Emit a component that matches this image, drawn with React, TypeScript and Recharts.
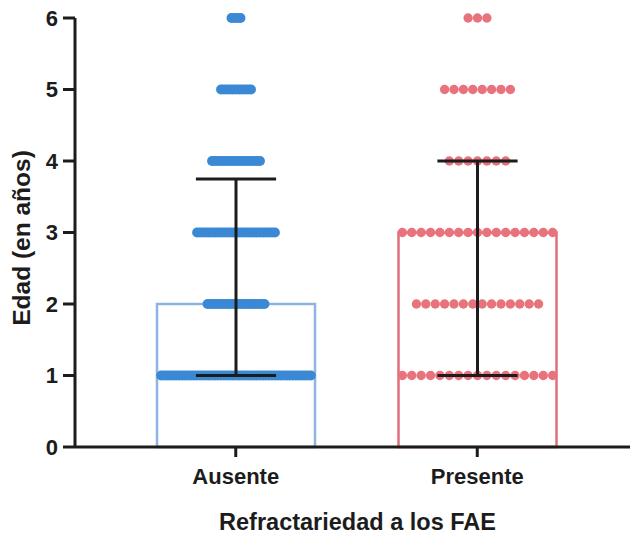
import React from "react";
import {
  ComposedChart,
  Bar,
  Scatter,
  XAxis,
  YAxis,
  Label,
} from "recharts";

// Categories and summary values
const categories = ["Ausente", "Presente"];
const medians = [2, 3];
const errLow = [1, 1]; // lower whisker values
const errHigh = [3.75, 4]; // upper whisker values

// Number of subjects at each age (0..6) per group
const ages = [0, 1, 2, 3, 4, 5, 6];
const ausenteCounts = [0, 51, 20, 27, 17, 11, 4];
const presenteCounts = [0, 17, 14, 17, 7, 8, 3];

const yTicks = [0, 1, 2, 3, 4, 5, 6];

const FONT = "'Liberation Sans', Arial, sans-serif";
const INK = "#1c1c1c";
const BLUE_DOT = "#3b89d4";
const BLUE_BAR = "#8db5e0";
const RED_DOT = "#e9737d";
const RED_BAR = "#df6f7b";
const CAP_HALF = 0.166; // half cap width in category units

// beeswarm-like horizontal spread in category units
function spread(counts: number[], center: number, step: number) {
  const pts: { x: number; y: number }[] = [];
  counts.forEach((n, i) => {
    for (let k = 0; k < n; k++) {
      pts.push({ x: center + (k - (n - 1) / 2) * step, y: ages[i] });
    }
  });
  return pts;
}

const barData = categories.map((c, i) => ({ name: c, median: medians[i] }));
const ausenteDots = spread(ausenteCounts, 1, 0.0124);
const presenteDots = spread(presenteCounts, 2, 0.0389);

// whisker segments (vertical + two caps) per group
const whiskerSegments: { x: number; y: number }[][] = [];
categories.forEach((_, i) => {
  const cx = i + 1;
  whiskerSegments.push([
    { x: cx, y: errLow[i] },
    { x: cx, y: errHigh[i] },
  ]);
  whiskerSegments.push([
    { x: cx - CAP_HALF, y: errHigh[i] },
    { x: cx + CAP_HALF, y: errHigh[i] },
  ]);
  whiskerSegments.push([
    { x: cx - CAP_HALF, y: errLow[i] },
    { x: cx + CAP_HALF, y: errLow[i] },
  ]);
});

export default function App() {
  return (
    <div style={{ position: "absolute", left: 0, top: 0, background: "#fff" }}>
      <ComposedChart
        width={633}
        height={537}
        data={barData}
        margin={{ top: 18, right: 3, left: 0, bottom: 0 }}
        barCategoryGap={0}
      >
        <XAxis
          xAxisId="cat"
          dataKey="name"
          type="category"
          height={90}
          padding={{ left: 40, right: 32 }}
          axisLine={{ stroke: INK, strokeWidth: 3 }}
          tickLine={{ stroke: INK, strokeWidth: 3 }}
          tickSize={10}
          tickMargin={11}
          tick={{ fill: INK, fontFamily: FONT, fontWeight: 700, fontSize: 22 }}
        >
          <Label
            value="Refractariedad a los FAE"
            position="insideBottom"
            offset={7}
            dx={5}
            style={{ fill: INK, fontFamily: FONT, fontWeight: 700, fontSize: 23.5 }}
          />
        </XAxis>
        <XAxis
          xAxisId="num"
          dataKey="x"
          type="number"
          domain={[0.3333, 2.6315]}
          allowDataOverflow
          hide
        />
        <YAxis
          type="number"
          domain={[0, 6]}
          ticks={yTicks}
          width={75}
          axisLine={{ stroke: INK, strokeWidth: 3 }}
          tickLine={{ stroke: INK, strokeWidth: 3 }}
          tickSize={12}
          tickMargin={5}
          tick={{ fill: INK, fontFamily: FONT, fontWeight: 700, fontSize: 22 }}
          label={{
            content: () => (
              <text
                x={21}
                y={238}
                transform="rotate(-90 21 238)"
                textAnchor="middle"
                dominantBaseline="central"
                style={{ fill: INK, fontFamily: FONT, fontWeight: 700, fontSize: 24.5 }}
              >
                Edad (en años)
              </text>
            ),
          }}
        />
        <Bar
          xAxisId="cat"
          dataKey="median"
          barSize={158}
          isAnimationActive={false}
          shape={(p: any) => (
            <rect
              x={p.x}
              y={p.y}
              width={p.width}
              height={p.height}
              fill="none"
              stroke={p.index === 0 ? BLUE_BAR : RED_BAR}
              strokeWidth={2.5}
            />
          )}
        />
        <Scatter
          xAxisId="num"
          data={ausenteDots}
          dataKey="y"
          isAnimationActive={false}
          shape={(p: any) => <circle cx={p.cx} cy={p.cy} r={5} fill={BLUE_DOT} />}
        />
        <Scatter
          xAxisId="num"
          data={presenteDots}
          dataKey="y"
          isAnimationActive={false}
          shape={(p: any) => <circle cx={p.cx} cy={p.cy} r={4.7} fill={RED_DOT} />}
        />
        {whiskerSegments.map((seg, i) => (
          <Scatter
            key={i}
            xAxisId="num"
            data={seg}
            dataKey="y"
            isAnimationActive={false}
            line={{ stroke: INK, strokeWidth: 3 }}
            shape={() => <g />}
          />
        ))}
      </ComposedChart>
    </div>
  );
}
